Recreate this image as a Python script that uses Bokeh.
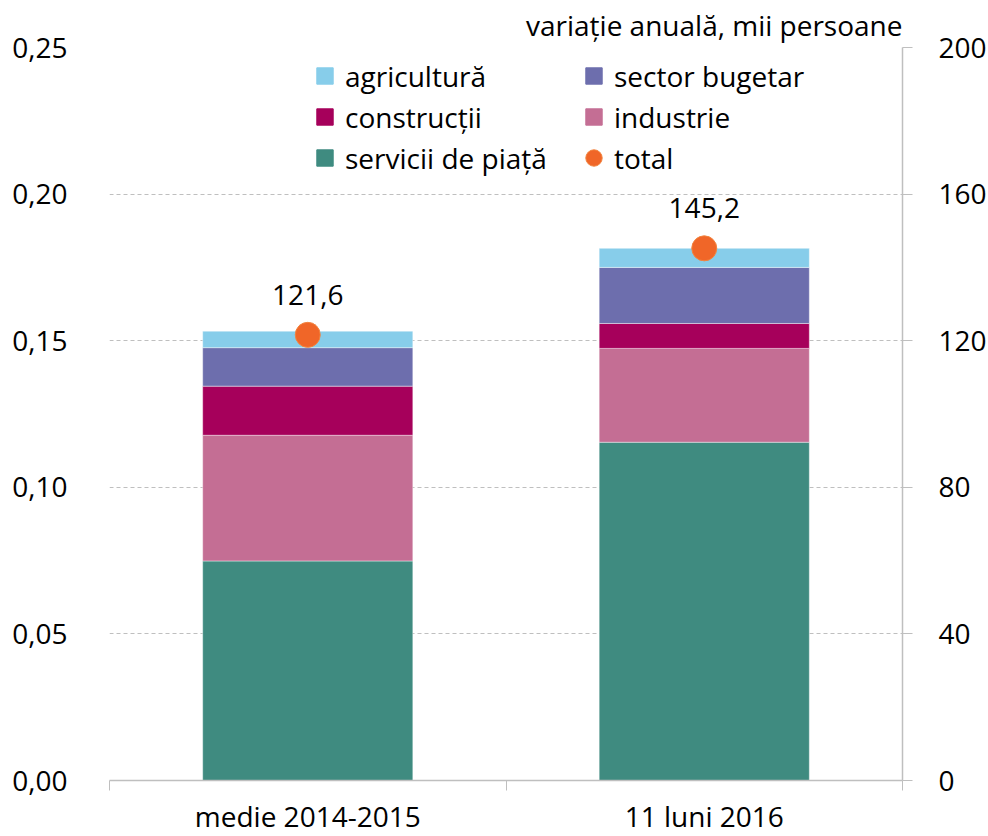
from bokeh.plotting import figure
from bokeh.models import (ColumnDataSource, Range1d, LinearAxis, FixedTicker,
                          Legend, LegendItem)
from bokeh.core.properties import value
from bokeh.embed import file_html
from bokeh.resources import INLINE

# ---------------- data ----------------
categories = ["medie 2014-2015", "11 luni 2016"]
servicii_de_piata = [59.9, 92.3]
industrie = [34.3, 25.6]
constructii = [13.4, 6.8]
sector_bugetar = [10.5, 15.3]
agricultura = [4.5, 5.2]
total = [121.6, 145.2]

right_ticks = [0, 40, 80, 120, 160, 200]
left_ticks = [0.0, 0.05, 0.10, 0.15, 0.20, 0.25]
left_labels = ["0,00", "0,05", "0,10", "0,15", "0,20", "0,25"]
title_text = "variație anuală, mii persoane"

stack_keys = ["servicii", "industrie", "constructii", "sector", "agricultura"]
stack_names = ["servicii de piață", "industrie", "construcții", "sector bugetar", "agricultură"]
stack_colors = ["#3F8B80", "#C46E94", "#A6005B", "#6D6EAD", "#87CDEA"]
total_color = "#F06628"

FONT = "Open Sans"
FS = "28px"
GRID = "#BFBFBF"

# ---------------- figure ----------------
n = len(categories)
centers = [i + 0.5 for i in range(n)]
bounds = [float(i) for i in range(n + 1)]

source = ColumnDataSource(dict(
    x=centers,
    servicii=servicii_de_piata,
    industrie=industrie,
    constructii=constructii,
    sector=sector_bugetar,
    agricultura=agricultura,
    total=total,
    total_label=[f"{v:.1f}".replace(".", ",") for v in total],
))

p = figure(frame_width=793, frame_height=733, output_backend="svg",
           toolbar_location=None, title=title_text,
           x_range=Range1d(0, n), y_range=Range1d(0, 200),
           y_axis_location="right",
           min_border_left=109, min_border_right=0,
           min_border_top=45, min_border_bottom=0)
p.outline_line_color = None
p.background_fill_color = "white"
p.border_fill_color = "white"

p.title.align = "right"
p.title.text_font = FONT
p.title.text_font_size = FS
p.title.text_font_style = "normal"
p.title.text_color = "black"
p.title.standoff = 7

p.extra_y_ranges = {"pct": Range1d(0, 0.25)}

# bars
p.vbar_stack(stack_keys, x="x", width=0.53, color=stack_colors,
             source=source, line_color="white", line_width=0.6, line_alpha=0.7)

# total dots
dots = p.scatter(x="x", y="total", source=source, size=25, color=total_color,
                 line_color="#F2843F", line_width=1)
p.text(x="x", y="total", text="total_label", source=source,
       text_align="center", text_baseline="middle", y_offset=-40,
       text_font=value(FONT), text_font_size=FS, text_color="black")

# ---------------- axes ----------------
xa = p.xaxis[0]
xa.ticker = FixedTicker(ticks=centers, minor_ticks=bounds)
xa.major_label_overrides = {c: lab for c, lab in zip(centers, categories)}
xa.major_tick_line_color = None
xa.major_tick_out = 0
xa.major_tick_in = 0
xa.minor_tick_line_color = GRID
xa.minor_tick_out = 10
xa.minor_tick_in = 0
xa.axis_line_color = GRID
xa.axis_line_width = 1.5
xa.major_label_text_font = FONT
xa.major_label_text_font_size = FS
xa.major_label_text_color = "black"
xa.major_label_standoff = 6

ra = p.yaxis[0]
ra.ticker = FixedTicker(ticks=right_ticks)
ra.axis_line_color = GRID
ra.axis_line_width = 1.5
ra.major_tick_line_color = GRID
ra.major_tick_out = 10
ra.major_tick_in = 0
ra.minor_tick_line_color = None
ra.major_label_text_font = FONT
ra.major_label_text_font_size = FS
ra.major_label_text_color = "black"
ra.major_label_standoff = 26

la = LinearAxis(y_range_name="pct", ticker=FixedTicker(ticks=left_ticks))
la.major_label_overrides = {t: lab for t, lab in zip(left_ticks, left_labels)}
la.axis_line_color = None
la.major_tick_line_color = None
la.minor_tick_line_color = None
la.major_label_text_font = FONT
la.major_label_text_font_size = FS
la.major_label_text_color = "black"
la.major_label_standoff = 36
p.add_layout(la, "left")

p.xgrid.grid_line_color = None
p.ygrid.grid_line_color = GRID
p.ygrid.grid_line_dash = "4 3"
p.ygrid.grid_line_width = 1.2

# ---------------- legends ----------------
proxies = {}
for name, col in zip(stack_names, stack_colors):
    proxies[name] = p.scatter(x=[float("nan")], y=[float("nan")], marker="square",
                              size=18, color=col)

col1 = ["agricultură", "construcții", "servicii de piață"]
col2 = ["sector bugetar", "industrie"]


def make_legend(items, loc):
    lg = Legend(items=items, location=loc, orientation="vertical",
                glyph_width=41, glyph_height=41, label_height=41,
                spacing=0, label_standoff=0, padding=0, margin=0,
                border_line_color=None, background_fill_alpha=0,
                label_text_font=FONT, label_text_font_size=FS,
                label_text_color="black")
    p.add_layout(lg, "center")
    return lg


make_legend([LegendItem(label=nm, renderers=[proxies[nm]]) for nm in col1], (195, 602))
make_legend([LegendItem(label=nm, renderers=[proxies[nm]]) for nm in col2]
            + [LegendItem(label="total", renderers=[dots])], (464, 602))

open("out.html", "w").write(file_html(p, INLINE))
